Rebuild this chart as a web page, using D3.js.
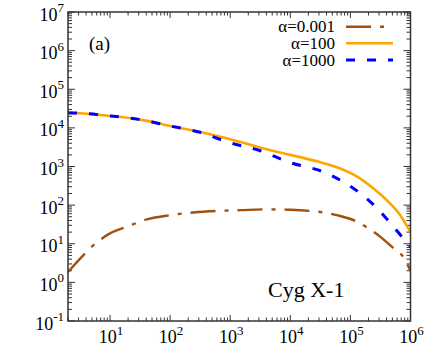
<!DOCTYPE html>
<html><head><meta charset="utf-8">
<script src="https://cdn.jsdelivr.net/npm/d3@7"></script>
<style>
html,body{margin:0;padding:0;background:#fff;}
svg{display:block;}
</style></head>
<body>
<svg id="chart" width="434" height="347"></svg>
<script>
// ---- data ----
const seriesNames = ["α=0.001", "α=100", "α=1000"];
const xA001 = [2, 3.83, 4.95, 10, 19, 41, 100, 245, 600, 1480, 3550, 10000, 21400, 60000, 129000, 190000, 316000, 525000, 764000, 1000000];
const yA001 = [1.86, 5.6, 8.3, 18.6, 27.5, 42.7, 55, 64.6, 70.8, 74.1, 77.6, 75.9, 70.8, 55, 37.2, 26.3, 15.1, 7.6, 4.5, 2.0];
const xA100 = [2, 3, 10, 30, 100, 300, 1000, 3000, 10000, 30000, 67600, 129000, 240000, 407000, 676000, 1000000];
const yA100 = [24500, 24000, 20400, 16600, 11200, 7900, 5100, 3160, 2000, 1320, 890, 550, 275, 132, 55, 20];
const xA1000 = [2, 3, 10, 30, 100, 300, 1000, 3000, 10000, 35500, 76400, 147000, 282000, 464000, 724000, 1000000];
const yA1000 = [24500, 24000, 20400, 16600, 11200, 7800, 4100, 2630, 1260, 724, 398, 200, 81, 34, 15, 8.5];
const xDomain = [2, 1e6];
const yDomain = [0.1, 1e7];
const xTickExps = [1, 2, 3, 4, 5, 6];
const yTickExps = [-1, 0, 1, 2, 3, 4, 5, 6, 7];

// ---- layout ----
const FONT = "font-family:'Liberation Serif','Tinos','DejaVu Serif','Times New Roman',serif";
const L = 68, R = 410.5, T = 12, B = 321;
const svg = d3.select("#chart");
const x = d3.scaleLog().domain(xDomain).range([L, R]);
const y = d3.scaleLog().domain(yDomain).range([B, T]);

const colors = ["#A0500F", "#FFA500", "#0000FF"];
const dashes = ["25,9,4,9", null, "9,12"];
const widths = [2.4, 2.6, 3];

function minors(domain) {
  const out = [];
  const e0 = Math.floor(Math.log10(domain[0])), e1 = Math.ceil(Math.log10(domain[1]));
  for (let e = e0; e <= e1; e++) for (let m = 1; m <= 9; m++) {
    const v = m * Math.pow(10, e);
    if (v >= domain[0] * 0.9999 && v <= domain[1] * 1.0001) out.push({v, major: m === 1});
  }
  return out;
}
const tickColor = "#333";
const g = svg.append("g");
minors(yDomain).forEach(t => {
  const len = t.major ? 7 : 4, yy = y(t.v);
  g.append("line").attr("x1", L).attr("x2", L + len).attr("y1", yy).attr("y2", yy).attr("stroke", tickColor).attr("stroke-width", 1);
  g.append("line").attr("x1", R).attr("x2", R - len).attr("y1", yy).attr("y2", yy).attr("stroke", tickColor).attr("stroke-width", 1);
});
minors(xDomain).forEach(t => {
  const len = t.major ? 6 : 3.5, xx = x(t.v);
  g.append("line").attr("x1", xx).attr("x2", xx).attr("y1", B).attr("y2", B - len).attr("stroke", tickColor).attr("stroke-width", 1);
  g.append("line").attr("x1", xx).attr("x2", xx).attr("y1", T).attr("y2", T + len).attr("stroke", tickColor).attr("stroke-width", 1);
});

// curves
const line = d3.line().x(d => x(d[0])).y(d => y(d[1])).curve(d3.curveMonotoneX);
svg.append("clipPath").attr("id", "clip").append("rect").attr("x", L).attr("y", T).attr("width", R - L).attr("height", B - T);
const cg = svg.append("g").attr("clip-path", "url(#clip)");
const sets = [[xA001, yA001], [xA100, yA100], [xA1000, yA1000]];
[1, 2, 0].forEach(i => {
  const pts = sets[i][0].map((v, k) => [v, sets[i][1][k]]);
  const p = cg.append("path").attr("d", line(pts)).attr("fill", "none")
    .attr("stroke", colors[i]).attr("stroke-width", widths[i]);
  if (dashes[i]) p.attr("stroke-dasharray", dashes[i]);
});

// frame
svg.append("rect").attr("x", L).attr("y", T).attr("width", R - L).attr("height", B - T)
  .attr("fill", "none").attr("stroke", tickColor).attr("stroke-width", 1.5);

// tick labels
function powLabel(sel, e) {
  sel.append("tspan").text("10");
  sel.append("tspan").style("font-size", "13px").attr("dy", -8.5).text(String(e));
}
xTickExps.forEach(e => {
  const t = svg.append("text").attr("x", x(Math.pow(10, e)) + 1).attr("y", 343)
    .attr("text-anchor", "middle").attr("style", FONT + ";font-size:18px").attr("fill", "#000");
  powLabel(t, e);
});
yTickExps.forEach(e => {
  const t = svg.append("text").attr("x", 64).attr("y", y(Math.pow(10, e)) + 8.5)
    .attr("text-anchor", "end").attr("style", FONT + ";font-size:18px").attr("fill", "#000");
  powLabel(t, e);
});

// annotations
svg.append("text").attr("x", 89).attr("y", 50).attr("style", FONT + ";font-size:19px").text("(a)");
svg.append("text").attr("x", 268).attr("y", 297).attr("style", FONT + ";font-size:22px").text("Cyg X-1");

// legend
const legY = [26.7, 43.3, 60];
seriesNames.forEach((n, i) => {
  svg.append("text").attr("x", 335).attr("y", legY[i] + 5.5).attr("text-anchor", "end")
    .attr("style", FONT + ";font-size:17px").text(n);
  const l = svg.append("line").attr("x1", 346).attr("x2", 393).attr("y1", legY[i]).attr("y2", legY[i])
    .attr("stroke", colors[i]).attr("stroke-width", widths[i]);
  if (dashes[i]) l.attr("stroke-dasharray", dashes[i]);
});
</script>
</body></html>
